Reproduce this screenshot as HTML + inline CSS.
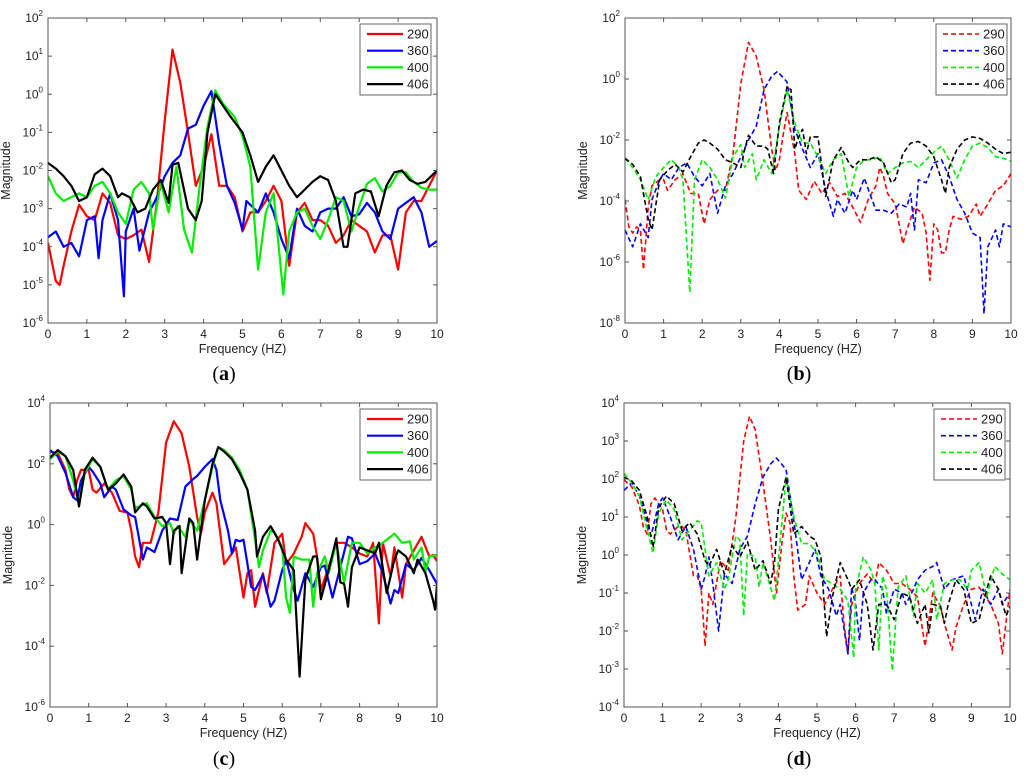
<!DOCTYPE html>
<html><head><meta charset="utf-8"><style>
html,body{margin:0;padding:0;background:#fff;}
svg{display:block;font-family:"Liberation Sans",sans-serif;}
</style></head><body>
<svg id="fig" width="1024" height="779" viewBox="0 0 1024 779"></svg>
<script>
// ---- data: [frequency Hz, log10 magnitude] ----
const a290=[[0,-3.9],[0.2,-4.9],[0.3,-5],[0.4,-4.5],[0.6,-3.6],[0.8,-2.9],[1,-3.2],[1.2,-3.3],[1.4,-2.6],[1.6,-2.85],[1.8,-3.7],[2,-3.8],[2.2,-3.7],[2.4,-3.55],[2.6,-4.4],[2.8,-2.8],[3,-0.7],[3.2,1.17],[3.4,0.3],[3.6,-1],[3.8,-2.4],[4,-1.9],[4.2,-1.05],[4.4,-2.4],[4.6,-2.4],[4.8,-2.7],[5,-3.6],[5.2,-3.1],[5.4,-3.1],[5.6,-2.8],[5.8,-2.4],[6,-2.8],[6.2,-4.5],[6.4,-3.1],[6.6,-2.85],[6.8,-3.3],[7,-3.3],[7.2,-3.45],[7.4,-3.9],[7.6,-3.7],[7.8,-3.3],[8,-3.45],[8.2,-3.6],[8.4,-4.15],[8.6,-3.7],[8.8,-3.7],[9,-4.6],[9.2,-3.1],[9.4,-2.8],[9.6,-2.8],[9.8,-2.4],[10,-2]];
const a360=[[0,-3.75],[0.2,-3.6],[0.4,-4],[0.6,-3.9],[0.8,-4.25],[1,-3.3],[1.2,-3.2],[1.3,-4.3],[1.4,-3.3],[1.6,-2.6],[1.8,-3.3],[1.95,-5.3],[2,-3.6],[2.2,-3],[2.35,-4.1],[2.6,-3.1],[2.8,-2.7],[3,-2.15],[3.2,-1.8],[3.4,-1.6],[3.6,-0.9],[3.8,-0.8],[4,-0.3],[4.2,0.08],[4.4,-1.3],[4.6,-2.4],[4.8,-2.85],[5,-3.55],[5.1,-2.8],[5.4,-3.1],[5.6,-2.6],[5.8,-3.1],[6,-3.8],[6.2,-4.3],[6.4,-3],[6.6,-3.45],[6.8,-3.6],[7,-3.1],[7.2,-3],[7.4,-3],[7.6,-2.7],[7.8,-3.2],[8,-3.15],[8.2,-2.85],[8.4,-3.1],[8.6,-3.6],[8.8,-3.8],[9,-3],[9.2,-2.85],[9.4,-2.7],[9.6,-3.1],[9.8,-4],[10,-3.85]];
const a400=[[0,-2.15],[0.2,-2.6],[0.4,-2.8],[0.6,-2.7],[0.8,-2.6],[1,-2.7],[1.2,-2.4],[1.4,-2.3],[1.6,-2.6],[1.8,-3.1],[2,-3.4],[2.2,-2.5],[2.4,-2.3],[2.6,-2.6],[2.7,-3.55],[2.9,-2.3],[3.1,-3.1],[3.3,-1.9],[3.5,-3.55],[3.7,-4.15],[3.9,-2.4],[4.1,-0.85],[4.3,0.1],[4.5,-0.25],[4.8,-0.6],[5,-1.1],[5.2,-1.9],[5.4,-4.6],[5.6,-3.1],[5.8,-2.6],[6.05,-5.25],[6.2,-3.6],[6.4,-3.1],[6.6,-3],[6.8,-3.45],[7,-3.8],[7.2,-3.3],[7.4,-2.7],[7.6,-2.8],[7.8,-3.6],[8,-2.95],[8.2,-2.35],[8.4,-2.2],[8.6,-2.55],[8.8,-2.4],[9,-2.05],[9.2,-2.05],[9.4,-2.3],[9.6,-2.45],[9.8,-2.5],[10,-2.5]];
const a406=[[0,-1.8],[0.2,-1.95],[0.4,-2.15],[0.6,-2.4],[0.8,-2.8],[1,-2.7],[1.2,-2.1],[1.4,-1.95],[1.6,-2.15],[1.8,-2.7],[1.9,-2.6],[2.1,-2.7],[2.3,-3.1],[2.5,-3],[2.7,-2.5],[2.9,-2.25],[3.1,-2.85],[3.2,-1.85],[3.35,-1.8],[3.6,-3],[3.8,-3.3],[3.95,-2.8],[4.1,-1],[4.3,0],[4.5,-0.3],[4.7,-0.6],[5,-1],[5.2,-1.6],[5.4,-2.3],[5.6,-1.9],[5.8,-1.6],[6,-2],[6.2,-2.4],[6.4,-2.7],[6.6,-2.5],[6.8,-2.3],[7,-2.15],[7.2,-2.25],[7.4,-2.8],[7.6,-4],[7.7,-4],[7.9,-2.6],[8.1,-2.5],[8.3,-2.55],[8.5,-3.2],[8.7,-2.4],[8.9,-2.05],[9.1,-2],[9.3,-2.25],[9.5,-2.35],[9.7,-2.3],[9.9,-2.1],[10,-2]];

const b290=[[0,-3.95],[0.1,-4.85],[0.2,-5.05],[0.3,-4.85],[0.4,-4.95],[0.48,-6.25],[0.6,-4.2],[0.7,-3.5],[0.9,-3.3],[1,-3.3],[1.1,-3.65],[1.3,-3.3],[1.5,-3.1],[1.7,-3.75],[1.9,-3.75],[2.05,-4.75],[2.2,-3.95],[2.4,-3.65],[2.6,-3.65],[2.8,-2.45],[3,-0.15],[3.2,1.2],[3.4,0.75],[3.6,-0.35],[3.8,-2.3],[3.9,-3],[4,-2.65],[4.1,-1.8],[4.2,-1.1],[4.4,-2.45],[4.5,-3.65],[4.7,-3.95],[4.9,-3.35],[5.1,-3.75],[5.3,-3.4],[5.5,-3.85],[5.7,-3.75],[5.9,-4.2],[6.1,-4.7],[6.3,-3.95],[6.5,-3.5],[6.6,-2.9],[6.7,-3.2],[6.8,-3.75],[7,-4.1],[7.2,-5.4],[7.3,-4.95],[7.5,-4.2],[7.7,-4.4],[7.8,-5.05],[7.9,-6.6],[8,-4.75],[8.1,-4.95],[8.2,-5.7],[8.3,-5.7],[8.4,-4.95],[8.5,-4.5],[8.7,-4.6],[8.9,-4.5],[9.1,-4.1],[9.2,-4.5],[9.4,-4.1],[9.6,-3.65],[9.8,-3.5],[10,-3.1]];
const b360=[[0,-4.95],[0.2,-5.5],[0.4,-4.75],[0.6,-5.2],[0.7,-3.95],[0.9,-3.3],[1,-3.1],[1.2,-3.3],[1.4,-2.9],[1.6,-2.75],[1.8,-3.2],[2,-3.5],[2.2,-3.1],[2.4,-4.4],[2.6,-3.5],[2.8,-3.1],[3,-2.55],[3.2,-2],[3.4,-1.55],[3.6,-0.35],[3.8,0.1],[3.95,0.25],[4.2,-0.1],[4.4,-1.65],[4.6,-2.3],[4.8,-2.9],[5,-2.45],[5.2,-3.65],[5.4,-4.5],[5.5,-3.95],[5.7,-4.4],[5.9,-3.65],[6,-3.95],[6.2,-3.25],[6.4,-3.95],[6.5,-4.3],[6.7,-4.3],[6.9,-4.4],[7.1,-4.1],[7.3,-4.2],[7.4,-3.75],[7.5,-4.95],[7.6,-3.3],[7.8,-3.4],[8,-2.75],[8.2,-2.65],[8.4,-3.2],[8.6,-3.95],[8.8,-4.4],[9,-5.05],[9.2,-5.2],[9.3,-7.7],[9.4,-5.5],[9.6,-4.95],[9.7,-5.5],[9.8,-4.75],[10,-4.85]];
const b400=[[0,-2.6],[0.2,-2.9],[0.4,-3.3],[0.6,-3.95],[0.8,-3.2],[1,-2.9],[1.2,-2.65],[1.4,-2.9],[1.5,-3.3],[1.68,-7],[1.8,-3.3],[2,-2.65],[2.2,-2.9],[2.4,-3.3],[2.6,-3.9],[2.8,-2.55],[3,-2.15],[3.1,-2.9],[3.3,-2.45],[3.4,-3.3],[3.6,-2.65],[3.8,-3.1],[4,-1.55],[4.2,-0.35],[4.4,-1.45],[4.6,-2.1],[4.8,-2.1],[5,-2.55],[5.2,-3.1],[5.4,-2.65],[5.6,-2.45],[5.8,-3.85],[6,-2.9],[6.2,-2.65],[6.4,-2.65],[6.6,-2.55],[6.8,-3.1],[7,-2.9],[7.2,-2.75],[7.4,-2.7],[7.6,-2.9],[7.8,-2.65],[8,-2.4],[8.2,-2.2],[8.4,-2.65],[8.6,-3.25],[8.8,-2.65],[9,-2.2],[9.2,-2.1],[9.4,-2.25],[9.6,-2.55],[9.8,-2.6],[10,-2.7]];
const b406=[[0,-2.6],[0.2,-2.8],[0.4,-3.2],[0.6,-4.6],[0.7,-4.95],[0.9,-3.3],[1.1,-3],[1.3,-2.8],[1.5,-3.05],[1.7,-2.55],[1.9,-2.1],[2.05,-2],[2.2,-2.1],[2.4,-2.3],[2.6,-2.65],[2.8,-2.75],[3,-2.9],[3.1,-2.3],[3.2,-1.85],[3.4,-2.2],[3.6,-2.2],[3.7,-2.3],[3.85,-3.1],[4,-1.45],[4.2,-0.25],[4.3,-0.35],[4.4,-2.3],[4.5,-1.9],[4.6,-1.65],[4.7,-2.45],[4.8,-1.9],[5,-1.9],[5.1,-2.9],[5.2,-3.85],[5.4,-2.65],[5.6,-2.25],[5.8,-2.75],[5.9,-2.9],[6.1,-2.65],[6.3,-2.65],[6.5,-2.55],[6.7,-2.75],[6.9,-3.4],[7,-3.3],[7.2,-2.45],[7.4,-2.1],[7.6,-2.05],[7.8,-2.2],[8,-2.55],[8.2,-3.3],[8.3,-3.75],[8.4,-2.9],[8.6,-2.3],[8.8,-2],[9,-1.9],[9.2,-1.95],[9.4,-2.1],[9.6,-2.3],[9.8,-2.45],[10,-2.4]];

const c290=[[0,2.4],[0.2,2.35],[0.4,1.8],[0.5,1.15],[0.6,0.9],[0.7,1.45],[0.8,1.8],[1,1.8],[1.1,1.15],[1.2,1.05],[1.4,1.35],[1.6,1.05],[1.8,0.45],[2,0.4],[2.1,-0.2],[2.2,-1.05],[2.3,-1.4],[2.4,-0.6],[2.6,-0.6],[2.8,0.4],[3,2.7],[3.2,3.4],[3.4,3],[3.6,1.9],[3.8,0.25],[3.9,-0.3],[4,0.4],[4.2,1.05],[4.3,0.7],[4.5,-1.3],[4.7,-0.95],[4.8,-0.75],[5,-2.4],[5.1,-1.6],[5.2,-1.5],[5.3,-2.7],[5.5,-1.6],[5.6,-2.25],[5.8,-0.6],[6,-0.3],[6.1,-1.3],[6.3,-0.95],[6.5,-0.4],[6.6,0.05],[6.8,-0.3],[6.9,-1.05],[7,-2.15],[7.2,-1.4],[7.4,-0.6],[7.6,-0.6],[7.8,-0.75],[8,-0.95],[8.2,-1.05],[8.35,-0.6],[8.5,-3.25],[8.6,-0.6],[8.8,-1.7],[8.9,-0.75],[9.1,-2.4],[9.2,-1.3],[9.4,-0.85],[9.6,-0.4],[9.8,-1.05],[9.9,-1],[10,-1.2]];
const c360=[[0,2.45],[0.2,2.25],[0.4,1.7],[0.6,0.9],[0.7,0.8],[0.8,1.45],[1,1.9],[1.1,1.75],[1.3,1.35],[1.4,0.9],[1.6,1.25],[1.7,1.15],[1.9,0.5],[2.1,0.3],[2.2,0.25],[2.4,-1.15],[2.5,-0.75],[2.7,-0.9],[2.9,-0.2],[3.1,0.2],[3.3,0.15],[3.5,1.25],[3.7,1.5],[3.8,1.6],[4,1.9],[4.2,2.15],[4.3,1.8],[4.4,0.8],[4.6,-0.2],[4.7,-0.95],[4.8,-0.5],[4.9,-0.55],[5,-0.5],[5.2,-2.05],[5.3,-2.15],[5.5,-1.65],[5.7,-2.7],[5.8,-2.5],[6,-1.5],[6.1,-1.15],[6.3,-2.15],[6.4,-2.5],[6.6,-1.6],[6.8,-2.05],[7,-1.4],[7.1,-1.35],[7.3,-2.4],[7.5,-1.4],[7.7,-0.4],[7.8,-0.45],[8,-1.3],[8.2,-1.2],[8.4,-0.95],[8.6,-1.6],[8.8,-2.6],[8.9,-2.15],[9,-2.25],[9.2,-1.3],[9.4,-1.5],[9.6,-1.1],[9.8,-1.5],[10,-1.95]];
const c400=[[0,2.15],[0.2,2.4],[0.4,2.25],[0.6,1.45],[0.75,0.65],[0.9,1.7],[1.1,2.15],[1.3,1.9],[1.5,1.15],[1.7,1.45],[1.9,1.6],[2.1,1.15],[2.2,0.55],[2.4,0.65],[2.5,0.7],[2.7,0.25],[2.9,-0.05],[3.1,0.05],[3.2,-0.3],[3.3,-0.05],[3.5,-0.4],[3.6,0.15],[3.8,-0.2],[4,0.8],[4.2,1.9],[4.35,2.55],[4.5,2.45],[4.7,2.2],[4.9,1.8],[5.1,1.15],[5.3,-0.5],[5.4,-1.4],[5.5,-0.85],[5.7,-0.2],[5.8,-0.25],[6,-0.75],[6.1,-2.4],[6.2,-2.9],[6.3,-1.05],[6.5,-1.15],[6.7,-1.15],[6.8,-2.7],[6.9,-1.6],[7.1,-1.05],[7.2,-1.6],[7.4,-0.6],[7.6,-1.9],[7.8,-0.6],[8,-0.6],[8.2,-0.95],[8.4,-0.75],[8.6,-0.6],[8.8,-0.4],[8.9,-0.3],[9.1,-0.6],[9.3,-0.55],[9.4,-1.15],[9.6,-0.75],[9.7,-1.55],[9.8,-1.05],[10,-1]];
const c406=[[0,2.2],[0.2,2.45],[0.4,2.25],[0.6,1.8],[0.75,0.6],[0.9,1.8],[1.1,2.2],[1.3,1.9],[1.5,1.15],[1.7,1.35],[1.9,1.65],[2.1,1.25],[2.2,0.4],[2.4,0.7],[2.5,0.6],[2.7,0.2],[2.9,0.25],[3,0.05],[3.1,-1.3],[3.2,-0.2],[3.35,-0.05],[3.4,-1.6],[3.6,0.2],[3.7,0.05],[3.8,-1.15],[4,0.8],[4.2,2],[4.35,2.55],[4.5,2.4],[4.7,2.15],[4.9,1.7],[5.1,1.15],[5.3,-0.2],[5.35,-1.05],[5.5,-0.4],[5.7,-0.05],[5.9,-0.5],[6.1,-1.15],[6.3,-1.5],[6.45,-5],[6.6,-1.8],[6.8,-1.05],[6.9,-1.05],[7,-2.45],[7.2,-1.5],[7.4,-0.45],[7.5,-1.9],[7.6,-1.95],[7.7,-2.7],[7.8,-1.4],[8,-0.75],[8.2,-0.85],[8.4,-0.95],[8.5,-0.6],[8.7,-2.25],[8.9,-1.15],[9,-0.85],[9.2,-1.05],[9.4,-1.6],[9.5,-1.15],[9.7,-1.6],[9.9,-2.5],[9.95,-2.8],[10,-1.95]];

const d290=[[0,1.98],[0.2,1.8],[0.4,1.3],[0.5,0.75],[0.6,0.55],[0.7,1.35],[0.8,1.5],[1,1.2],[1.1,0.65],[1.2,0.55],[1.4,0.75],[1.5,0.75],[1.6,0.65],[1.7,0.05],[1.8,-0.55],[1.9,-0.55],[2,-0.9],[2.1,-2.4],[2.2,-1],[2.3,-1.3],[2.5,-0.15],[2.7,-0.4],[2.9,1],[3.1,3],[3.25,3.65],[3.4,3.3],[3.6,1.9],[3.8,0.4],[3.95,-1],[4.1,0.4],[4.2,1.1],[4.3,0.85],[4.4,-0.55],[4.5,-1.45],[4.7,-1.3],[4.8,-0.55],[5,-1],[5.2,-1.3],[5.4,-0.9],[5.6,-0.55],[5.7,-1.8],[5.8,-2.6],[5.9,-1.3],[6.1,-0.75],[6.3,-0.5],[6.5,-0.75],[6.6,-0.2],[6.8,-0.4],[7,-0.75],[7.2,-0.75],[7.4,-0.9],[7.6,-1.1],[7.8,-2.4],[7.9,-1.7],[8,-1],[8.2,-1.35],[8.3,-1.8],[8.5,-2.5],[8.6,-1.9],[8.8,-1.3],[9,-0.9],[9.2,-0.85],[9.3,-1],[9.5,-1.3],[9.7,-1.8],[9.8,-2.6],[10,-0.9]];
const d360=[[0,1.7],[0.2,1.9],[0.4,1.55],[0.6,0.85],[0.7,0.5],[0.9,1.35],[1,1.5],[1.2,1],[1.4,0.4],[1.6,0.75],[1.8,0.15],[2,-0.9],[2.1,-0.55],[2.2,-0.05],[2.3,-0.75],[2.45,-2],[2.6,-0.5],[2.8,-0.75],[3,0.15],[3.2,0.5],[3.4,1.35],[3.6,2.05],[3.8,2.4],[3.95,2.55],[4.2,2.25],[4.4,0.9],[4.6,-0.65],[4.8,-0.2],[4.95,0.15],[5.1,-0.55],[5.3,-0.9],[5.5,-1.6],[5.6,-1.3],[5.8,-2.6],[5.9,-0.85],[6,-1.3],[6.1,-2.25],[6.2,-1],[6.4,-0.65],[6.5,-0.65],[6.7,-0.9],[6.8,-1.55],[7,-0.9],[7.2,-1],[7.3,-1.3],[7.5,-0.9],[7.6,-0.65],[7.8,-0.4],[8,-0.3],[8.1,-0.2],[8.3,-0.9],[8.5,-0.65],[8.8,-0.55],[9,-1.3],[9.1,-1.7],[9.3,-0.9],[9.5,-1.3],[9.7,-0.9],[9.8,-1.3],[10,-1]];
const d400=[[0,2.15],[0.2,1.9],[0.4,1.55],[0.6,0.65],[0.75,0.05],[0.9,1.1],[1.1,1.45],[1.3,1.2],[1.5,0.4],[1.7,0.65],[1.9,0.9],[2,0.85],[2.2,-0.55],[2.4,-0.2],[2.6,-0.9],[2.7,-0.65],[2.9,0.5],[3,0.4],[3.1,-1.6],[3.2,0.05],[3.4,-0.05],[3.5,-0.85],[3.6,-0.2],[3.9,-1.2],[4,-0.15],[4.2,2.05],[4.4,1],[4.6,0.3],[4.8,0.3],[5,0.05],[5.2,-0.65],[5.4,-0.75],[5.6,-0.9],[5.8,-1.2],[5.95,-2.7],[6,-0.9],[6.2,-0.05],[6.4,-0.4],[6.5,-0.75],[6.6,-2.5],[6.7,-0.55],[6.8,-0.9],[6.95,-3.05],[7.1,-0.85],[7.3,-0.55],[7.5,-1.6],[7.6,-0.75],[7.8,-1],[8,-0.65],[8.1,-1.7],[8.3,-0.75],[8.5,-0.65],[8.7,-0.65],[8.9,-0.9],[9,-0.4],[9.2,-0.2],[9.4,-1.1],[9.6,-0.3],[9.8,-0.5],[10,-0.65]];
const d406=[[0,2.05],[0.2,1.95],[0.4,1.7],[0.6,1],[0.75,0.2],[0.9,1.25],[1.1,1.55],[1.3,1.35],[1.5,0.65],[1.7,0.85],[1.9,0.55],[2.1,-0.15],[2.2,-0.3],[2.4,0.15],[2.6,-0.5],[2.8,0.25],[3,-0.05],[3.2,0.35],[3.4,-0.4],[3.6,-0.15],[3.8,-0.75],[3.9,-0.2],[4,1.2],[4.2,2.05],[4.4,0.55],[4.6,0.75],[4.8,0.5],[4.95,0.4],[5.1,-0.05],[5.25,-2.15],[5.4,-1.1],[5.6,-0.2],[5.8,-0.65],[5.9,-0.9],[6.1,-0.65],[6.3,-1.3],[6.45,-2.5],[6.6,-1.3],[6.8,-1.3],[7,-1.7],[7.2,-1],[7.4,-1.1],[7.6,-1.8],[7.8,-1.3],[7.9,-2.05],[8,-1.3],[8.2,-1.35],[8.3,-1.8],[8.4,-1.3],[8.6,-0.65],[8.8,-0.9],[9,-1.8],[9.2,-1.7],[9.4,-0.9],[9.5,-0.55],[9.7,-0.9],[9.9,-1.6],[10,-1.35]];

const seriesNames=["290","360","400","406"];
const xTicks=[0,1,2,3,4,5,6,7,8,9,10];

const NS="http://www.w3.org/2000/svg";
const svg=document.getElementById("fig");
function mk(tag,attrs,parent){const e=document.createElementNS(NS,tag);for(const k in attrs)e.setAttribute(k,attrs[k]);(parent||svg).appendChild(e);return e;}

const colors=["#ff0000","#0000ff","#00ee00","#000000"];
const panels=[
 {id:"a",x0:48,x1:437,y0:18,y1:323,ymax:2,ymin:-6,dash:false,series:[a290,a360,a400,a406],leg:[360,24],cap:[224,373]},
 {id:"b",x0:625,x1:1011,y0:18,y1:323,ymax:2,ymin:-8,dash:true,series:[b290,b360,b400,b406],leg:[936,24],cap:[799,373],step:2},
 {id:"c",x0:50,x1:437,y0:403,y1:707,ymax:4,ymin:-6,dash:false,series:[c290,c360,c400,c406],leg:[360,409],cap:[224,758],step:2},
 {id:"d",x0:624,x1:1010,y0:403,y1:707,ymax:4,ymin:-4,dash:true,series:[d290,d360,d400,d406],leg:[934,409],cap:[799,758]}
];

panels.forEach(p=>{
  const g=mk("g",{});
  
  
  const sx=v=>p.x0+(v-0)/(10-0)*(p.x1-p.x0);
  const sy=v=>p.y0+(p.ymax-v)/(p.ymax-p.ymin)*(p.y1-p.y0);
  const clipId="clip"+p.id;
  const cp=mk("clipPath",{id:clipId},g);
  mk("rect",{x:p.x0,y:p.y0,width:p.x1-p.x0,height:p.y1-p.y0},cp);
  // series
  p.series.forEach((s,i)=>{
    const d=s.map((pt,j)=>(j?"L":"M")+sx(pt[0]).toFixed(1)+","+sy(pt[1]).toFixed(1)).join("");
    const path=mk("path",{d:d,fill:"none",stroke:colors[i],"stroke-width":p.dash?1.6:2.2,"stroke-linejoin":"round","clip-path":"url(#"+clipId+")"},g);
    if(p.dash)path.setAttribute("stroke-dasharray","5,3");
    
    
  });
  // frame
  const fr=mk("rect",{x:p.x0,y:p.y0,width:p.x1-p.x0,height:p.y1-p.y0,fill:"none",stroke:"#555","stroke-width":1},g);
  
  
  // x ticks
  xTicks.forEach(t=>{
    const x=sx(t);
    mk("line",{x1:x,x2:x,y1:p.y1,y2:p.y1-4,stroke:"#555"},g);
    mk("line",{x1:x,x2:x,y1:p.y0,y2:p.y0+4,stroke:"#555"},g);
    const tx=mk("text",{x:x,y:p.y1+15,"text-anchor":"middle","font-size":12,fill:"#222"},g);
    tx.textContent=t;
    
    
  });
  // y ticks
  const step=p.step||1;
  for(let e=p.ymin;e<=p.ymax;e+=step){
    const y=sy(e);
    mk("line",{x1:p.x0,x2:p.x0+4,y1:y,y2:y,stroke:"#555"},g);
    mk("line",{x1:p.x1,x2:p.x1-4,y1:y,y2:y,stroke:"#555"},g);
    const tx=mk("text",{x:p.x0-5,y:y+4,"text-anchor":"end","font-size":12,fill:"#222"},g);
    
    
    const t1=mk("tspan",{},tx);t1.textContent="10";
    const t2=mk("tspan",{dy:-6,"font-size":8},tx);t2.textContent=e;
  }
  // labels
  const xl=mk("text",{x:(p.x0+p.x1)/2,y:p.y1+30,"text-anchor":"middle","font-size":12.5,fill:"#222"},g);
  xl.textContent="Frequency (HZ)";
  
  
  const yx=p.x0-38, yy=(p.y0+p.y1)/2;
  const yl=mk("text",{x:yx,y:yy,"text-anchor":"middle","font-size":12.5,fill:"#222",transform:"rotate(-90 "+yx+" "+yy+")"},g);
  yl.textContent="Magnitude";
  
  
  // legend
  const lg=mk("g",{},g);
  
  
  const [lx,ly]=p.leg;
  mk("rect",{x:lx,y:ly,width:71,height:71,fill:"#fff",stroke:"#666"},lg);
  seriesNames.forEach((n,i)=>{
    const yy2=ly+10+i*16.7;
    const ln=mk("line",{x1:lx+7,x2:lx+43,y1:yy2,y2:yy2,stroke:colors[i],"stroke-width":p.dash?1.6:2.2},lg);
    if(p.dash)ln.setAttribute("stroke-dasharray","5,3");
    const t=mk("text",{x:lx+47,y:yy2+4.5,"font-size":13,fill:"#222"},lg);
    t.textContent=n;
    
    
  });
  // caption
  const c=mk("text",{x:p.cap[0],y:p.cap[1]+7,"text-anchor":"middle","font-size":20,"font-family":"Liberation Serif, serif",fill:"#000"},g);
  c.innerHTML='(<tspan font-weight="bold">'+p.id+'</tspan>)';
  
  
});
</script>
</body></html>
